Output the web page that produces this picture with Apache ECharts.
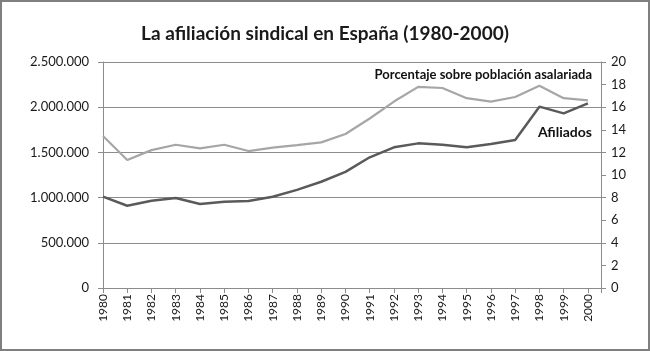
<!DOCTYPE html>
<html>
<head>
<meta charset="utf-8">
<script src="https://cdn.jsdelivr.net/npm/echarts@6/dist/echarts.min.js"></script>
<style>
  html, body { margin: 0; padding: 0; background: #fff; }
  #chart { width: 650px; height: 351px; box-sizing: border-box; border: 2px solid #7f7f7f; }
</style>
</head>
<body>
<div id="chart"></div>
<script>
const years = [1980, 1981, 1982, 1983, 1984, 1985, 1986, 1987, 1988, 1989, 1990,
  1991, 1992, 1993, 1994, 1995, 1996, 1997, 1998, 1999, 2000];
const afiliados = [1010000, 910000, 966000, 996000, 929000, 955000, 962000, 1010000, 1085000, 1175000, 1285000,
  1446000, 1556000, 1600000, 1585000, 1556000, 1593000, 1637000, 2006000, 1932000, 2043000];
const porcentaje = [13.45, 11.33, 12.2, 12.68, 12.36, 12.68, 12.12, 12.42, 12.65, 12.89, 13.63,
  15.0, 16.5, 17.8, 17.7, 16.8, 16.5, 16.9, 17.9, 16.8, 16.6];

const font = "Lato, 'Open Sans', sans-serif";
const gridColor = "#8c8c8c";

const chart = echarts.init(document.getElementById("chart"), null, { renderer: "canvas" });

const option = {
  animation: false,
  title: {
    text: "La afiliación sindical en España (1980-2000)",
    left: "center",
    top: 17,
    textStyle: { fontFamily: font, fontSize: 19, fontWeight: "bold", color: "#1a1a1a" },
  },
  grid: { left: 101, right: 47, top: 60, bottom: 61 },
  xAxis: {
    type: "value",
    min: 1980,
    max: 2000.54,
    interval: 1,
    axisLine: { show: true, lineStyle: { color: gridColor, width: 1 } },
    axisTick: { show: true, length: 5, lineStyle: { color: gridColor } },
    splitLine: { show: false },
    axisLabel: {
      rotate: 90,
      fontFamily: font,
      fontSize: 12,
      color: "#1a1a1a",
      margin: 6,
      formatter: (v) => (Number.isInteger(v) ? String(v) : ""),
    },
  },
  yAxis: [
    {
      type: "value",
      min: 0,
      max: 2500000,
      interval: 500000,
      axisLine: { show: true, lineStyle: { color: gridColor } },
      axisTick: { show: true, length: 5, lineStyle: { color: gridColor } },
      splitLine: { show: true, lineStyle: { color: gridColor, width: 1 } },
      axisLabel: {
        fontFamily: font,
        fontSize: 13,
        color: "#1a1a1a",
        margin: 14,
        formatter: (v) => v.toLocaleString("de-DE"),
      },
    },
    {
      type: "value",
      min: 0,
      max: 20,
      interval: 2,
      position: "right",
      axisLine: { show: true, lineStyle: { color: gridColor } },
      axisTick: { show: true, length: 5, lineStyle: { color: gridColor } },
      splitLine: { show: false },
      axisLabel: { fontFamily: font, fontSize: 13, color: "#1a1a1a", margin: 10 },
    },
  ],
  graphic: [
    {
      type: "text",
      right: 56,
      top: 66,
      style: {
        text: "Porcentaje sobre población asalariada",
        font: "bold 13px " + font,
        fill: "#111",
      },
    },
    {
      type: "text",
      right: 56,
      top: 123,
      style: { text: "Afiliados", font: "bold 14px " + font, fill: "#111" },
    },
  ],
  series: [
    {
      name: "Porcentaje sobre población asalariada",
      type: "line",
      yAxisIndex: 1,
      data: years.map((y, i) => [y, porcentaje[i]]),
      symbol: "none",
      lineStyle: { color: "#a6a6a6", width: 2.2 },
      z: 2,
    },
    {
      name: "Afiliados",
      type: "line",
      yAxisIndex: 0,
      data: years.map((y, i) => [y, afiliados[i]]),
      symbol: "none",
      lineStyle: { color: "#5a5a5a", width: 2.5 },
      z: 3,
    },
  ],
};

chart.setOption(option);
</script>
</body>
</html>
